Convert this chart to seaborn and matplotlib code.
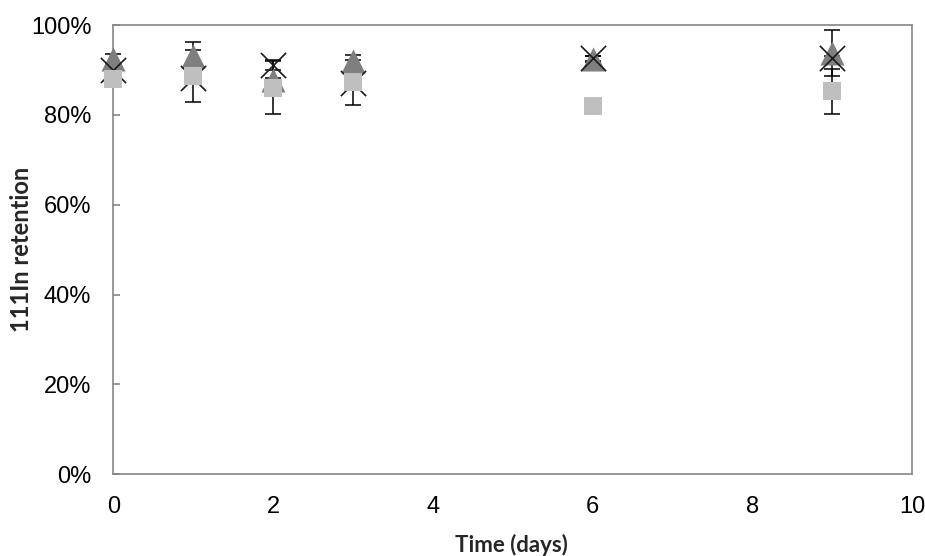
import matplotlib
matplotlib.use("Agg")
import matplotlib.pyplot as plt
from matplotlib.ticker import PercentFormatter
import seaborn as sns
import pandas as pd

# Data (percent retention)
days = [0, 1, 2, 3, 6, 9]
tri_vals = [92.4, 93.1, 87.8, 91.9, 92.4, 93.8]
tri_err = [1.1, 3.2, 0.5, 1.4, 0.6, 5.1]
sq_vals = [87.9, 88.7, 86.0, 87.3, 81.9, 85.3]
sq_err = [0.5, 5.8, 5.9, 5.0, 0.0, 5.0]
x_vals = [90.0, 88.1, 91.1, 87.2, 92.6, 92.6]
x_err = [0.5, 0.5, 1.2, 0.5, 0.5, 0.5]

x_ticks = [0, 2, 4, 6, 8, 10]
y_ticks = [0, 20, 40, 60, 80, 100]

sns.set_theme(style="white")
plt.rcParams['font.family'] = ['Liberation Sans', 'DejaVu Sans']

fig = plt.figure(figsize=(9.25, 5.56), dpi=100)
ax = fig.add_axes([0.1227, 0.147, 0.986 - 0.1227, 0.955 - 0.147])

df_tri = pd.DataFrame({"day": days, "val": tri_vals})
df_sq = pd.DataFrame({"day": days, "val": sq_vals})
df_x = pd.DataFrame({"day": days, "val": x_vals})

# error bars (behind markers)
for vals, errs in [(tri_vals, tri_err), (x_vals, x_err), (sq_vals, sq_err)]:
    ax.errorbar(days, vals, yerr=errs, fmt='none', ecolor='black',
                elinewidth=1.1, capsize=6, capthick=1.1, zorder=2, clip_on=False)

sns.scatterplot(data=df_tri, x="day", y="val", marker='^', s=300, color="#7f7f7f",
                linewidth=0, ax=ax, zorder=3, clip_on=False)
sns.scatterplot(data=df_x, x="day", y="val", marker='x', s=330, color="#1a1a1a",
                linewidth=1.2, ax=ax, zorder=4, clip_on=False)
sns.scatterplot(data=df_sq, x="day", y="val", marker='s', s=150, color="#bfbfbf",
                linewidth=0, ax=ax, zorder=5, clip_on=False)

ax.set_xlim(0, 10)
ax.set_ylim(0, 100)
ax.set_xticks(x_ticks)
ax.set_yticks(y_ticks)
ax.yaxis.set_major_formatter(PercentFormatter(100, decimals=0))

for s in ax.spines.values():
    s.set_color("#868686")
    s.set_linewidth(1.2)
    s.set_zorder(1)

ax.tick_params(axis='y', direction='in', length=5, width=1.2, color="#868686",
               labelsize=17, pad=16, left=True, right=False, labelcolor='black')
ax.tick_params(axis='x', length=0, labelsize=17, pad=16, bottom=False, labelcolor='black')

ax.set_xlabel("Time (days)", fontsize=16, fontweight='bold', family=['Lato', 'DejaVu Sans'],
              va='center')
ax.set_ylabel("111In retention", fontsize=17, fontweight='bold', family=['Lato', 'DejaVu Sans'],
              va='center')
ax.xaxis.set_label_coords(0.4985, -0.157)
ax.yaxis.set_label_coords(-0.115, 0.5)
ax.grid(False)

fig.savefig("out.png", dpi=100)
